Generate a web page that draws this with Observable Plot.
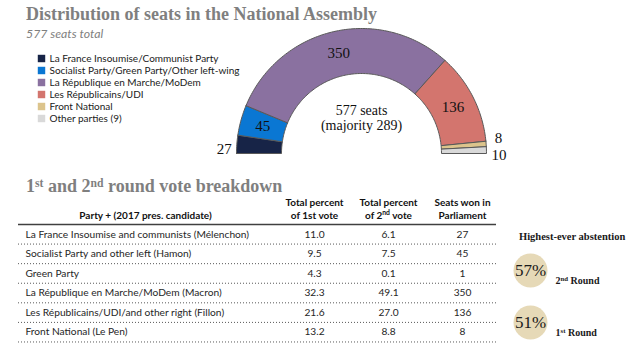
<!DOCTYPE html>
<html>
<head>
<meta charset="utf-8">
<script src="https://cdn.jsdelivr.net/npm/d3@7"></script>
<script src="https://cdn.jsdelivr.net/npm/@observablehq/plot@0.6"></script>
<style>
  body { margin: 0; background: #fff; }
  #root { position: relative; width: 628px; height: 353px; overflow: hidden; background: #fff; }
  .abs { position: absolute; white-space: nowrap; line-height: 1; }
  .htitle { font-family: "Liberation Serif", serif; font-weight: bold; color: #7f7f7f; font-size: 18px; }
  .htitle sup { font-size: 65%; vertical-align: 0.45em; line-height: 0; }
  .sub { font-family: "Lato", sans-serif; font-style: italic; color: #7f7f7f; font-size: 12.3px; }
  .abst { font-family: "Liberation Serif", serif; font-weight: bold; color: #1a1a1a; font-size: 10.5px; }
  svg { overflow: visible; }
</style>
</head>
<body>
<div id="root">
  <div class="abs htitle" style="left:26px;top:5px;">Distribution of seats in the National Assembly</div>
  <div class="abs sub" style="left:26px;top:28px;">577 seats total</div>
  <div class="abs htitle" style="left:26px;top:177px;">1<sup>st</sup> and 2<sup>nd</sup> round vote breakdown</div>
  <div class="abs abst" style="left:519px;top:232px;">Highest-ever abstention</div>
  <div class="abs" id="legend" style="left:30px;top:51px;"></div>
  <div class="abs" id="arc" style="left:211px;top:18px;"></div>
  <div class="abs" id="table" style="left:0px;top:193px;"></div>
  <div class="abs" id="circles" style="left:500px;top:244px;"></div>
</div>
<script>
// ---------- data ----------
const parties = [
  "La France Insoumise/Communist Party",
  "Socialist Party/Green Party/Other left-wing",
  "La République en Marche/MoDem",
  "Les Républicains/UDI",
  "Front National",
  "Other parties (9)"
];
const seats = [27, 45, 350, 136, 8, 10];
const partyColors = ["#172447", "#0a77d3", "#8a71a0", "#d3756e", "#dcc48c", "#d9d9d9"];
const totalSeats = 577;
const majority = 289;

const rowLabels = [
  "La France Insoumise and communists (Mélenchon)",
  "Socialist Party and other left (Hamon)",
  "Green Party",
  "La République en Marche/MoDem (Macron)",
  "Les Républicains/UDI/and other right (Fillon)",
  "Front National (Le Pen)"
];
const firstRound = [11.0, 9.5, 4.3, 32.3, 21.6, 13.2];
const secondRound = [6.1, 7.5, 0.1, 49.1, 27.0, 8.8];
const seatsWon = [27, 45, 1, 350, 136, 8];
const partyHeader = "Party + (2017 pres. candidate)";
const colKeys = ["first", "second", "seats"];
const colHeaders = ["Total percent\nof 1st vote", "Total percent\nof 2nd vote", "Seats won in\nParliament"];

const abstRounds = ["2nd Round", "1st Round"];
const abstention = [57, 51];

// ---------- helpers ----------
function supify(root, re) {
  const nodes = [...root.querySelectorAll("text, tspan")]
    .filter(n => n.childElementCount === 0 && re.test(n.textContent));
  nodes.forEach(n => {
    const t = n.textContent;
    const m = t.match(re);
    const before = t.slice(0, m.index + m[1].length);
    const sup = m[2];
    const after = t.slice(m.index + m[0].length);
    n.textContent = "";
    n.appendChild(document.createTextNode(before));
    const s = document.createElementNS("http://www.w3.org/2000/svg", "tspan");
    s.setAttribute("baseline-shift", "super");
    s.setAttribute("font-size", "68%");
    s.textContent = sup;
    n.appendChild(s);
    n.appendChild(document.createTextNode(after));
  });
}

// ---------- legend ----------
const legend = Plot.plot({
  width: 220, height: 73, margin: 0,
  x: {axis: null},
  y: {type: "band", domain: parties, range: [0, 73], padding: 0, axis: null},
  color: {domain: parties, range: partyColors},
  marks: [
    Plot.dot(parties, {y: d => d, frameAnchor: "left", dx: 11, symbol: "square", r: 4.2, fill: d => d}),
    Plot.text(parties, {y: d => d, frameAnchor: "left", dx: 19, textAnchor: "start", text: d => d,
      fontFamily: "Lato, sans-serif", fontSize: 10, fill: "#1a1a1a"})
  ]
});
document.getElementById("legend").appendChild(legend);

// ---------- hemicycle ----------
const sumSeats = d3.sum(seats);
const inner = 0.64;
let cum = 0;
const segs = seats.map((v, i) => {
  const a0 = Math.PI * cum / sumSeats;
  cum += v;
  const a1 = Math.PI * cum / sumSeats;
  return {party: parties[i], value: v, a0, a1, i};
});
const arcPts = segs.flatMap(s => {
  const n = Math.max(2, Math.ceil((s.a1 - s.a0) / Math.PI * 160) + 1);
  const pts = [];
  for (let k = 0; k < n; k++) {
    const a = s.a0 + (s.a1 - s.a0) * k / (n - 1);
    pts.push({party: s.party, x: -Math.cos(a), y: Math.sin(a)});
  }
  for (let k = n - 1; k >= 0; k--) {
    const a = s.a0 + (s.a1 - s.a0) * k / (n - 1);
    pts.push({party: s.party, x: -Math.cos(a) * inner, y: Math.sin(a) * inner});
  }
  pts.push({...pts[0]});
  return pts;
});
const insideLabels = segs.filter(s => s.value >= 30).map(s => {
  const a = (s.a0 + s.a1) / 2, r = 0.82;
  return {text: String(s.value), x: -Math.cos(a) * r, y: Math.sin(a) * r};
});
const outside = segs.map((s, idx) => {
  const a = (s.a0 + s.a1) / 2, r = 1.1;
  const next = segs[idx + 1];
  return {text: String(s.value), x: -Math.cos(a) * r, y: Math.sin(a) * r,
          out: s.value < 30, below: !(next && next.value < 30)};
}).filter(d => d.out);

const serifFont = "Liberation Serif, serif";
const arc = Plot.plot({
  width: 300, height: 150, margin: 0,
  x: {domain: [-1.2, 1.2], axis: null},
  y: {domain: [-0.12, 1.08], axis: null},
  color: {domain: parties, range: partyColors},
  marks: [
    Plot.line(arcPts, {x: "x", y: "y", z: "party", fill: "party", stroke: "#595959", strokeWidth: 1, curve: "linear"}),
    Plot.text(insideLabels, {x: "x", y: "y", text: "text", fontFamily: serifFont, fontSize: 15, fill: "#111"}),
    Plot.text(outside.filter(d => d.below), {x: "x", y: "y", text: "text", lineAnchor: "top", fontFamily: serifFont, fontSize: 15, fill: "#111"}),
    Plot.text(outside.filter(d => !d.below), {x: "x", y: "y", text: "text", lineAnchor: "bottom", fontFamily: serifFont, fontSize: 15, fill: "#111"}),
    Plot.text([`${totalSeats} seats\n(majority ${majority})`], {x: 0, y: 0.284, text: d => d, lineHeight: 1.07, fontFamily: serifFont, fontSize: 14, fill: "#111"})
  ]
});
document.getElementById("arc").appendChild(arc);

// ---------- table ----------
const cells = rowLabels.flatMap((r, i) => [
  {row: i, col: "first", text: firstRound[i].toFixed(1)},
  {row: i, col: "second", text: secondRound[i].toFixed(1)},
  {row: i, col: "seats", text: String(seatsWon[i])}
]);
const sansFont = "Lato, sans-serif";
const table = Plot.plot({
  width: 500, height: 155,
  marginLeft: 18, marginRight: 4, marginTop: 0, marginBottom: 0,
  x: {type: "point", domain: colKeys, range: [314, 462], padding: 0, axis: null},
  y: {domain: [-1.583, 6.333], range: [0, 155], axis: null},
  marks: [
    Plot.ruleY([0], {stroke: "#404040", strokeWidth: 1.5}),
    Plot.ruleY(rowLabels, {y: (d, i) => i + 1, stroke: "#595959", strokeWidth: 1, strokeDasharray: "1,2"}),
    Plot.text(rowLabels, {y: (d, i) => i + 0.5, frameAnchor: "left", dx: 7, textAnchor: "start", text: d => d,
      fontFamily: sansFont, fontSize: 10.2, fill: "#262626"}),
    Plot.text(cells, {x: "col", y: d => d.row + 0.5, text: "text", fontFamily: sansFont, fontSize: 10.2, fill: "#262626"}),
    Plot.text(colHeaders, {x: (d, i) => colKeys[i], y: -0.843, text: d => d, lineHeight: 1.3,
      fontFamily: sansFont, fontSize: 10, fontWeight: "bold", fill: "#111"}),
    Plot.text([partyHeader], {y: -0.46, frameAnchor: "left", dx: 127, textAnchor: "middle", text: d => d,
      fontFamily: sansFont, fontSize: 10, fontWeight: "bold", fill: "#111"})
  ]
});
supify(table, /(2)(nd)/);
document.getElementById("table").appendChild(table);

// ---------- abstention circles ----------
const abst = abstRounds.map((r, i) => ({round: r, value: abstention[i]}));
const circles = Plot.plot({
  width: 128, height: 104, margin: 0,
  x: {axis: null},
  y: {type: "band", domain: abstRounds, range: [0, 104], padding: 0, axis: null},
  marks: [
    Plot.dot(abst, {y: "round", frameAnchor: "left", dx: 30, r: 17, fill: "#e6d9b7", stroke: "none"}),
    Plot.text(abst, {y: "round", frameAnchor: "left", dx: 30, textAnchor: "middle", text: d => d.value + "%",
      fontFamily: serifFont, fontSize: 17, fill: "#1a1a1a"}),
    Plot.text(abst, {y: "round", frameAnchor: "left", dx: 55, dy: 10, textAnchor: "start", text: "round",
      fontFamily: serifFont, fontSize: 10, fontWeight: "bold", fill: "#1a1a1a"})
  ]
});
supify(circles, /(\d)(st|nd)/);
document.getElementById("circles").appendChild(circles);
</script>
</body>
</html>
